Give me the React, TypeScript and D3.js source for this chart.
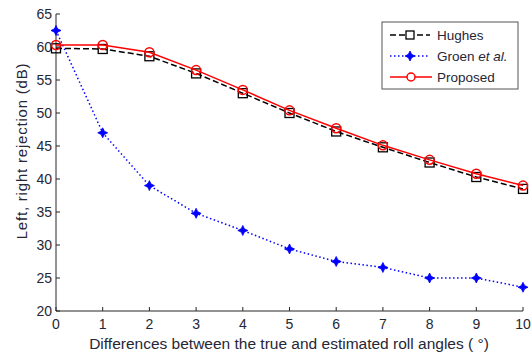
import * as d3 from 'd3';

const angles = [0, 1, 2, 3, 4, 5, 6, 7, 8, 9, 10];
const hughes = [59.8, 59.7, 58.6, 56.0, 53.0, 50.0, 47.2, 44.8, 42.5, 40.3, 38.5];
const groen = [62.5, 47.0, 39.0, 34.8, 32.2, 29.4, 27.5, 26.6, 25.0, 25.0, 23.6];
const proposed = [60.3, 60.3, 59.2, 56.5, 53.5, 50.4, 47.7, 45.1, 42.9, 40.8, 39.0];
const yTicks = [20, 25, 30, 35, 40, 45, 50, 55, 60, 65];

const W = 532;
const H = 356;
const left = 56;
const right = 523;
const top = 14;
const bottom = 311;
const font = 'Arial, "Liberation Sans", sans-serif';
const textColor = '#262636';

function Star({ x, y }: { x: number; y: number }) {
  const pts = d3.range(8).map((i) => {
    const a = (Math.PI / 4) * i - Math.PI / 2;
    const r = i % 2 === 0 ? 5 : 2.3;
    return [x + r * Math.cos(a), y + r * Math.sin(a)];
  });
  return <polygon points={pts.map((p) => p.join(',')).join(' ')} fill="#0000ff" stroke="#0000ff" strokeWidth={0.8} />;
}

export default function App() {
  const x = d3.scaleLinear().domain([0, 10]).range([left, right]);
  const y = d3.scaleLinear().domain([20, 65]).range([bottom, top]);
  const line = d3
    .line<number>()
    .x((_, i) => x(angles[i]))
    .y((d) => y(d));

  return (
    <svg width={W} height={H} style={{ position: 'absolute', left: 0, top: 0, background: '#fff' }} fontFamily={font}>
      {/* axes */}
      <line x1={left} x2={left} y1={top} y2={bottom} stroke="#262626" strokeWidth={1} />
      <line x1={left} x2={right} y1={bottom} y2={bottom} stroke="#262626" strokeWidth={1} />
      {angles.map((a) => (
        <g key={a}>
          <line x1={x(a)} x2={x(a)} y1={bottom} y2={bottom - 4} stroke="#262626" />
          <text x={x(a)} y={bottom + 18} fontSize={14} textAnchor="middle" fill={textColor}>
            {a}
          </text>
        </g>
      ))}
      {yTicks.map((t) => (
        <g key={t}>
          <line x1={left} x2={left + 4} y1={y(t)} y2={y(t)} stroke="#262626" />
          <text x={left - 4} y={y(t) + 5} fontSize={14} textAnchor="end" fill={textColor}>
            {t}
          </text>
        </g>
      ))}

      {/* series */}
      <path d={line(groen) || ''} fill="none" stroke="#0000ff" strokeWidth={1.5} strokeDasharray="1.5 2.5" />
      {groen.map((v, i) => (
        <Star key={i} x={x(angles[i])} y={y(v)} />
      ))}
      <path d={line(hughes) || ''} fill="none" stroke="#000" strokeWidth={1.5} strokeDasharray="6 3" />
      {hughes.map((v, i) => (
        <rect key={i} x={x(angles[i]) - 4.5} y={y(v) - 4.5} width={9} height={9} fill="none" stroke="#000" strokeWidth={1.3} />
      ))}
      <path d={line(proposed) || ''} fill="none" stroke="#ff0000" strokeWidth={1.5} />
      {proposed.map((v, i) => (
        <circle key={i} cx={x(angles[i])} cy={y(v)} r={4.5} fill="none" stroke="#ff0000" strokeWidth={1.5} />
      ))}

      {/* legend */}
      <rect x={382} y={22} width={136} height={67} fill="#fff" stroke="#555" strokeWidth={1} />
      <line x1={390} x2={430} y1={35} y2={35} stroke="#000" strokeWidth={1.5} strokeDasharray="6 3" />
      <rect x={406} y={31} width={8} height={8} fill="#fff" stroke="#000" strokeWidth={1.3} />
      <text x={437} y={40} fontSize={13.5} fill={textColor}>Hughes</text>
      <line x1={390} x2={430} y1={56} y2={56} stroke="#0000ff" strokeWidth={1.5} strokeDasharray="1.5 2.5" />
      <Star x={410} y={56} />
      <text x={437} y={61} fontSize={13.5} fill={textColor}>
        Groen <tspan fontStyle="italic">et al.</tspan>
      </text>
      <line x1={390} x2={432} y1={77} y2={77} stroke="#ff0000" strokeWidth={1.5} />
      <circle cx={411} cy={77} r={4} fill="#fff" stroke="#ff0000" strokeWidth={1.5} />
      <text x={437} y={82} fontSize={13.5} fill={textColor}>Proposed</text>

      {/* axis labels */}
      <text
        transform={`translate(27,151) rotate(-90)`}
        fontSize={15}
        letterSpacing={0.8}
        textAnchor="middle"
        fill={textColor}
      >
        Left, right rejection (dB)
      </text>
      <text x={289} y={349} fontSize={15.5} textAnchor="middle" fill={textColor}>
        Differences between the true and estimated roll angles (  °)
      </text>
    </svg>
  );
}
